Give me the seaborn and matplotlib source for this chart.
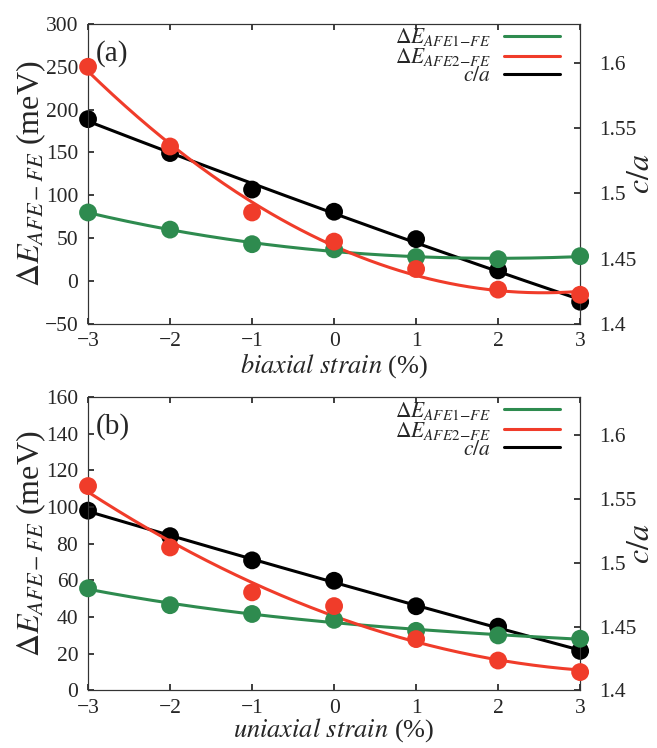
import numpy as np
import pandas as pd
import matplotlib
matplotlib.use("Agg")
import matplotlib.pyplot as plt
import seaborn as sns

# Strain values (%)
strain = [-3, -2, -1, 0, 1, 2, 3]

# Panel (a): biaxial strain
bi_afe1 = [80, 60, 43, 37, 28, 25.5, 29]
bi_afe2 = [250, 157, 80, 46, 14, -10, -16]
bi_ca = [1.557, 1.531, 1.503, 1.486, 1.465, 1.441, 1.417]

# Panel (b): uniaxial strain
uni_afe1 = [55.7, 46.5, 41.7, 38.5, 32.5, 30, 28.2]
uni_afe2 = [111.5, 78, 53.5, 46, 28, 16.3, 10]
uni_ca = [1.541, 1.521, 1.502, 1.486, 1.466, 1.450, 1.431]

green = "#2e8b4f"
red = "#f03c2a"
black = "#000000"

sns.set_theme(style="white")
plt.rcParams["font.family"] = ["Liberation Serif", "DejaVu Serif"]
plt.rcParams["mathtext.fontset"] = "stix"
plt.rcParams["axes.linewidth"] = 0.8


def fit_curve(x, y, deg):
    xs = np.linspace(min(x), max(x), 200)
    return pd.DataFrame({"x": xs, "y": np.polyval(np.polyfit(x, y, deg), xs)})


def draw_panel(ax, afe1, afe2, ca, ylim, yticks, xlabel, tag, xlab_y):
    ax2 = ax.twinx()
    d1 = fit_curve(strain, afe1, 3)
    d2 = fit_curve(strain, afe2, 2)
    d3 = fit_curve(strain, ca, 2)
    sns.lineplot(data=d1, x="x", y="y", color=green, lw=2.2, ax=ax,
                 label=r"$\Delta E_{AFE1\!-\!FE}$")
    sns.lineplot(data=d2, x="x", y="y", color=red, lw=2.2, ax=ax,
                 label=r"$\Delta E_{AFE2\!-\!FE}$")
    sns.scatterplot(x=strain, y=afe1, color=green, s=165, edgecolor="none",
                    ax=ax, zorder=3, clip_on=False)
    sns.scatterplot(x=strain, y=afe2, color=red, s=165, edgecolor="none",
                    ax=ax, zorder=3, clip_on=False)
    sns.lineplot(data=d3, x="x", y="y", color=black, lw=2.2, ax=ax2,
                 label=r"$c/a$")
    sns.scatterplot(x=strain, y=ca, color=black, s=165, edgecolor="none",
                    ax=ax2, zorder=3, clip_on=False)

    ax.set_xlim(-3, 3)
    ax.set_ylim(*ylim)
    ax.set_yticks(yticks)
    ax.set_xticks(strain)
    ax.set_xticklabels(["\u22123", "\u22122", "\u22121", "0", "1", "2", "3"])
    ax2.set_ylim(1.4, 1.63)
    ax2.set_yticks([1.4, 1.45, 1.5, 1.55, 1.6])
    ax2.set_yticklabels(["1.4", "1.45", "1.5", "1.55", "1.6"])

    ax.tick_params(axis="y", direction="in", length=4, labelsize=15.5,
                   left=True, right=False, pad=7)
    ax.tick_params(axis="x", direction="in", length=4, labelsize=15.5,
                   top=True, bottom=True, pad=6)
    ax2.tick_params(axis="y", direction="in", length=4, labelsize=15.5,
                    right=True, left=False, pad=14)
    for a in (ax, ax2):
        for sp in a.spines.values():
            sp.set_color("#333333")

    ax.set_xlabel(xlabel, fontsize=19)
    ax.xaxis.set_label_coords(0.5, xlab_y)
    ax.set_ylabel(r"$\Delta E_{AFE-FE}$ (meV)", fontsize=23)
    ax.yaxis.set_label_coords(-0.082, 0.5)
    ax2.set_ylabel(r"$c/a$", fontsize=23, rotation=90)
    ax2.yaxis.set_label_coords(1.095, 0.5)
    ax.text(-2.9, ylim[1] - (ylim[1] - ylim[0]) * 0.1, tag, fontsize=21,
            va="center", ha="left")

    h1, l1 = ax.get_legend_handles_labels()
    h2, l2 = ax2.get_legend_handles_labels()
    if ax2.get_legend():
        ax2.get_legend().remove()
    leg = ax.legend(h1 + h2, l1 + l2, loc="upper right", frameon=False,
                    markerfirst=False, fontsize=15.5, handlelength=2.6,
                    labelspacing=-0.1, borderaxespad=0.2, handletextpad=0.6,
                    bbox_to_anchor=(0.985, 1.035))
    for t in leg.get_texts():
        t.set_ha("right")
    ax.set_zorder(ax2.get_zorder() + 1)
    ax.patch.set_visible(False)


fig = plt.figure(figsize=(6.57, 7.48), dpi=100)
ax_a = fig.add_axes([0.134, 0.567, 0.749, 0.401])
ax_b = fig.add_axes([0.134, 0.077, 0.749, 0.392])

draw_panel(ax_a, bi_afe1, bi_afe2, bi_ca, (-50, 300),
           [-50, 0, 50, 100, 150, 200, 250, 300],
           r"$biaxial\ strain$ (%)", "(a)", -0.09)
draw_panel(ax_b, uni_afe1, uni_afe2, uni_ca, (0, 160),
           [0, 20, 40, 60, 80, 100, 120, 140, 160],
           r"$uniaxial\ strain$ (%)", "(b)", -0.088)

fig.savefig("out.png", dpi=100)
